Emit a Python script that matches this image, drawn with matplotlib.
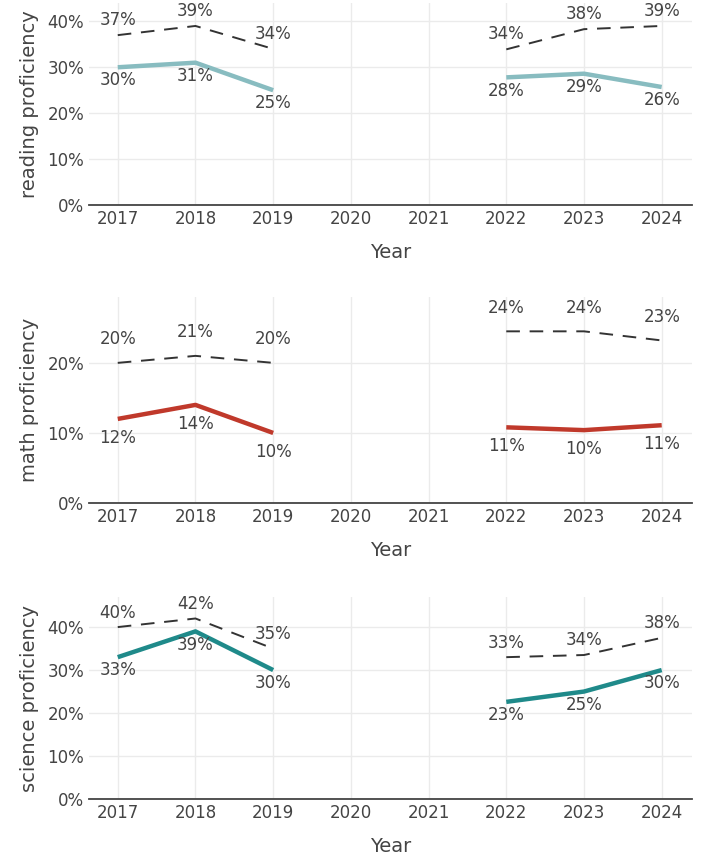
import numpy as np
import matplotlib.pyplot as plt

years = [2017, 2018, 2019, 2020, 2021, 2022, 2023, 2024]
nan = np.nan

# school values (solid) and comparison values (dashed), in percent
reading = [30, 31, 25, nan, nan, 27.8, 28.6, 25.7]
reading_cmp = [37, 39, 34, nan, nan, 33.9, 38.3, 39.0]
math_ = [12, 14, 10, nan, nan, 10.8, 10.4, 11.1]
math_cmp = [20, 21, 20, nan, nan, 24.5, 24.5, 23.2]
science = [33, 39, 30, nan, nan, 22.6, 25.0, 30.0]
science_cmp = [40, 42, 35, nan, nan, 33.0, 33.5, 37.5]

panels = [
    ("reading proficiency", reading, reading_cmp, "#88bcc0", [0, 10, 20, 30, 40], 44, 11, -9.5),
    ("math proficiency", math_, math_cmp, "#c0392b", [0, 10, 20], 29.4, 17, -13.5),
    ("science proficiency", science, science_cmp, "#1f8a8a", [0, 10, 20, 30, 40], 47, 10.5, -9.5),
]

W, H = 704, 859
plt.rcParams['font.family'] = 'DejaVu Sans'
fig = plt.figure(figsize=(W / 100, H / 100), dpi=100)
txt = '#444444'

# pixel boxes (left, top, right, bottom)
boxes = [(89, 3, 692, 205), (89, 297, 692, 503), (89, 597, 692, 799)]

for (label, solid, dashed, color, yt, ytop, up, down), (l, t, r, b) in zip(panels, boxes):
    ax = fig.add_axes([l / W, 1 - b / H, (r - l) / W, (b - t) / H])
    ax.set_xlim(2016.63, 2024.39)
    ax.set_ylim(0, ytop)
    ax.plot(years, dashed, color='#333333', lw=1.4, dashes=(7, 5), zorder=3)
    ax.plot(years, solid, color=color, lw=3.2, solid_capstyle='butt', zorder=4)
    for x, v in zip(years, dashed):
        if not np.isnan(v):
            ax.annotate(f"{v:.0f}%", (x, v), xytext=(0, up), textcoords='offset points',
                        ha='center', va='center', fontsize=12, color=txt, zorder=5)
    for x, v in zip(years, solid):
        if not np.isnan(v):
            ax.annotate(f"{v:.0f}%", (x, v), xytext=(0, down), textcoords='offset points',
                        ha='center', va='center', fontsize=12, color=txt, zorder=5)
    ax.set_xticks(years)
    ax.set_xticklabels([str(y) for y in years])
    ax.set_yticks(yt)
    ax.set_yticklabels([f"{v}%" for v in yt])
    ax.grid(True, color='#ebebeb', lw=1)
    ax.set_axisbelow(True)
    for s in ['top', 'right', 'left']:
        ax.spines[s].set_visible(False)
    ax.spines['bottom'].set_color('#444444')
    ax.spines['bottom'].set_linewidth(1.3)
    ax.tick_params(length=0, labelsize=12, colors=txt, pad=3.5)
    ax.set_xlabel("Year", fontsize=14, color=txt, labelpad=11)
    ax.set_ylabel(label, fontsize=14, color=txt, labelpad=6)

fig.savefig("out.png", dpi=100)
